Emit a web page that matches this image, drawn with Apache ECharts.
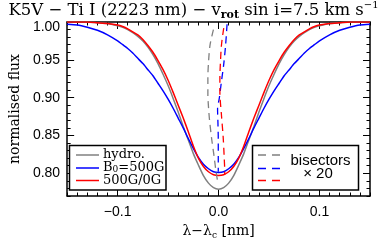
<!DOCTYPE html>
<html><head><meta charset="utf-8">
<script src="https://cdn.jsdelivr.net/npm/echarts@6/dist/echarts.min.js"></script>
<style>html,body{margin:0;padding:0;background:#fff}#c{width:387px;height:246px}</style>
</head><body><div id="c"></div>
<script>
// wavelength offsets (nm)
const lam = [-0.15,-0.14,-0.13,-0.12,-0.11,-0.10,-0.095,-0.09,-0.085,-0.08,-0.075,-0.07,-0.065,-0.06,-0.055,-0.05,-0.045,-0.04,-0.035,-0.03,-0.025,-0.02,-0.015,-0.01,-0.005,0,
  0.005,0.01,0.015,0.02,0.025,0.03,0.035,0.04,0.045,0.05,0.055,0.06,0.065,0.07,0.075,0.08,0.085,0.09,0.095,0.10,0.11,0.12,0.13,0.14,0.15];
const fluxHydro = [1.000,1.000,1.000,0.999,0.998,0.995,0.993,0.990,0.986,0.981,0.975,0.967,0.957,0.945,0.931,0.916,0.899,0.881,0.862,0.844,0.826,0.811,0.797,0.787,0.781,0.779,
  0.781,0.787,0.797,0.811,0.826,0.844,0.862,0.881,0.899,0.916,0.931,0.945,0.957,0.967,0.975,0.981,0.986,0.990,0.993,0.995,0.998,0.999,1.000,1.000,1.000];
const fluxB500 = [0.997,0.996,0.993,0.989,0.983,0.975,0.970,0.965,0.959,0.952,0.945,0.937,0.929,0.919,0.909,0.898,0.886,0.873,0.860,0.846,0.833,0.821,0.812,0.806,0.802,0.801,
  0.802,0.806,0.812,0.821,0.833,0.846,0.860,0.873,0.886,0.898,0.909,0.919,0.929,0.937,0.945,0.952,0.959,0.965,0.970,0.975,0.983,0.989,0.993,0.996,0.997];
const flux500to0 = [1.000,1.000,1.000,0.999,0.998,0.996,0.994,0.991,0.987,0.983,0.977,0.969,0.960,0.949,0.937,0.923,0.907,0.890,0.873,0.855,0.836,0.820,0.809,0.802,0.798,0.797,
  0.798,0.802,0.809,0.820,0.836,0.855,0.873,0.890,0.907,0.923,0.937,0.949,0.960,0.969,0.977,0.983,0.987,0.991,0.994,0.996,0.998,0.999,1.000,1.000,1.000];

// bisectors (x20 magnified offsets)
const bisHydroX = [-0.0051,-0.0084,-0.0099,-0.0106,-0.0106,-0.0099,-0.0090,-0.0068,-0.0045,-0.0026,-0.0010];
const bisHydroF = [0.990,0.970,0.948,0.926,0.904,0.886,0.871,0.845,0.823,0.803,0.790];
const bisB500X = [0.0084,0.0070,0.0051,0.0029,0.0007,-0.0010,-0.0006,-0.0003,-0.0003,-0.0003];
const bisB500F = [0.997,0.970,0.944,0.922,0.899,0.886,0.865,0.845,0.816,0.802];
const bis500to0X = [0.0051,0.0029,0.0019,0.0013,0.0013,0.0029,0.0045,0.0055,0.0061,0.0061];
const bis500to0F = [0.992,0.970,0.948,0.926,0.908,0.876,0.849,0.823,0.801,0.798];

const xTicks = [-0.1, 0, 0.1];
const xTickLabels = ['\u22120.1', '0.0', '0.1'];
const yTicks = [0.80, 0.85, 0.90, 0.95, 1.00];
const yTickLabels = ['0.80', '0.85', '0.90', '0.95', '1.00'];

const GRAY = '#808080', BLUE = '#0000ff', RED = '#ff0000';
const pairs = (xs, ys) => xs.map((x, i) => [x, ys[i]]);

const chart = echarts.init(document.getElementById('c'), null, {renderer: 'canvas'});
const serif = 'DejaVu Serif';
const sans = 'Liberation Sans';

function xAx(pos, major, labels) {
  const a = {
    type: 'value', min: -0.15, max: 0.15, position: pos,
    axisLine: {show: major, onZero: false, lineStyle: {color: '#000', width: 1.5}},
    splitLine: {show: false},
    axisTick: {show: true, inside: true, length: major ? 7 : 3.5, lineStyle: {color: '#000', width: 1}},
    axisLabel: {show: labels, fontFamily: sans, fontSize: 14, color: '#000', margin: 9}
  };
  if (major) {
    a.axisTick.customValues = xTicks;
    a.axisLabel.customValues = xTicks;
    a.axisLabel.formatter = v => { const i = xTicks.findIndex(t => Math.abs(t - v) < 1e-9); return i >= 0 ? xTickLabels[i] : ''; };
  } else { a.interval = 0.01; }
  return a;
}
function yAx(pos, major, labels) {
  const a = {
    type: 'value', min: 0.77, max: 1.0, position: pos,
    axisLine: {show: major, onZero: false, lineStyle: {color: '#000', width: 1.5}},
    splitLine: {show: false},
    axisTick: {show: true, inside: true, length: major ? 7 : 3.5, lineStyle: {color: '#000', width: 1}},
    axisLabel: {show: labels, fontFamily: sans, fontSize: 14, color: '#000', margin: 7,
      rich: {top: {fontFamily: sans, fontSize: 14, color: '#000', padding: [10, 0, 0, 0]}}}
  };
  if (major) {
    a.axisTick.customValues = yTicks;
    a.axisLabel.customValues = yTicks;
    a.axisLabel.formatter = v => {
      const i = yTicks.findIndex(t => Math.abs(t - v) < 1e-9);
      if (i < 0) return '';
      return i === yTicks.length - 1 ? '{top|' + yTickLabels[i] + '}' : yTickLabels[i];
    };
  } else { a.interval = 0.01; }
  return a;
}

const xA = [xAx('bottom', true, true), xAx('bottom', false, false), xAx('top', true, false), xAx('top', false, false)];
xA[0].name = '{a|\u03bb\u2212\u03bb}{s|c}{a| [nm]}';
xA[0].nameLocation = 'middle';
xA[0].nameGap = 22;
xA[0].nameTextStyle = {rich: {a: {fontFamily: serif, fontSize: 14, color: '#000', lineHeight: 18}, s: {fontFamily: serif, fontSize: 9, color: '#000', verticalAlign: 'bottom', lineHeight: 12}}};
const yA = [yAx('left', true, true), yAx('left', false, false), yAx('right', true, false), yAx('right', false, false)];
yA[0].name = 'normalised flux';
yA[0].nameLocation = 'middle';
yA[0].nameGap = 40;
yA[0].nameTextStyle = {fontFamily: serif, fontSize: 14, color: '#000'};

const lineS = (name, xs, ys, color, dashed) => ({
  type: 'line', name, data: pairs(xs, ys), xAxisIndex: 0, yAxisIndex: 0,
  showSymbol: false, smooth: dashed ? 0.3 : 0.2, animation: false,
  lineStyle: {color, width: dashed ? 1.3 : 1.5, type: dashed ? [7, 5] : 'solid'}, z: dashed ? 3 : 2
});

const legTxt = (x, y, text, rich) => ({type: 'text', x, y, style: {text, rich, verticalAlign: 'middle', align: 'left'}, z: 20});

chart.setOption({
  animation: false,
  title: {
    text: '{t|K5V \u2212 Ti I (2223 nm) \u2212 v}{s|rot}{t| sin i=7.5 km s}{p|\u22121}',
    left: 'center', top: 0, padding: [0, 0, 0, 0],
    textStyle: {fontWeight: 'normal', rich: {
      t: {fontFamily: serif, fontSize: 16.5, fontWeight: 'normal', color: '#000', lineHeight: 21},
      s: {fontFamily: serif, fontSize: 11, fontWeight: 'bold', color: '#000', verticalAlign: 'bottom', lineHeight: 12},
      p: {fontFamily: serif, fontSize: 10, fontWeight: 'normal', color: '#000', verticalAlign: 'top', lineHeight: 11}
    }}
  },
  grid: {left: 59, right: 17, top: 22, bottom: 50, containLabel: false},
  xAxis: xA,
  yAxis: yA,
  series: [
    lineS('hydro.', lam, fluxHydro, GRAY, false),
    lineS('B0=500G', lam, fluxB500, BLUE, false),
    lineS('500G/0G', lam, flux500to0, RED, false),
    lineS('bis hydro.', bisHydroX, bisHydroF, GRAY, true),
    lineS('bis B0=500G', bisB500X, bisB500F, BLUE, true),
    lineS('bis 500G/0G', bis500to0X, bis500to0F, RED, true)
  ],
  graphic: [
    {type: 'rect', shape: {x: 69.5, y: 145.5, width: 96.5, height: 44.5}, style: {fill: '#fff', stroke: '#000', lineWidth: 1.5}, z: 10},
    {type: 'line', shape: {x1: 76, y1: 155, x2: 99, y2: 155}, style: {stroke: GRAY, lineWidth: 1.5}, z: 20},
    {type: 'line', shape: {x1: 76, y1: 168, x2: 99, y2: 168}, style: {stroke: BLUE, lineWidth: 1.5}, z: 20},
    {type: 'line', shape: {x1: 76, y1: 180.5, x2: 99, y2: 180.5}, style: {stroke: RED, lineWidth: 1.5}, z: 20},
    legTxt(103, 155, '{g|hydro.}', {g: {fontFamily: serif, fontSize: 13, color: GRAY}}),
    legTxt(103, 168, '{b|B}{s|0}{b|=500G}', {b: {fontFamily: serif, fontSize: 13, color: BLUE}, s: {fontFamily: serif, fontSize: 9, color: BLUE, verticalAlign: 'bottom', lineHeight: 10}}),
    legTxt(103, 180.5, '{r|500G/0G}', {r: {fontFamily: serif, fontSize: 13, color: RED}}),
    {type: 'rect', shape: {x: 252.5, y: 145.5, width: 106, height: 44.5}, style: {fill: '#fff', stroke: '#000', lineWidth: 1.5}, z: 10},
    {type: 'line', shape: {x1: 258, y1: 155, x2: 281, y2: 155}, style: {stroke: GRAY, lineWidth: 1.3, lineDash: [8, 6]}, z: 20},
    {type: 'line', shape: {x1: 258, y1: 168.5, x2: 281, y2: 168.5}, style: {stroke: BLUE, lineWidth: 1.3, lineDash: [8, 6]}, z: 20},
    {type: 'line', shape: {x1: 258, y1: 180.5, x2: 281, y2: 180.5}, style: {stroke: RED, lineWidth: 1.3, lineDash: [8, 6]}, z: 20},
    {type: 'text', x: 320.5, y: 160.5, style: {text: 'bisectors', fontFamily: sans, fontSize: 15, fill: '#000', align: 'center', verticalAlign: 'middle'}, z: 20},
    {type: 'text', x: 318, y: 173.5, style: {text: '\u00d7 20', fontFamily: sans, fontSize: 15, fill: '#000', align: 'center', verticalAlign: 'middle'}, z: 20}
  ]
});
</script></body></html>
